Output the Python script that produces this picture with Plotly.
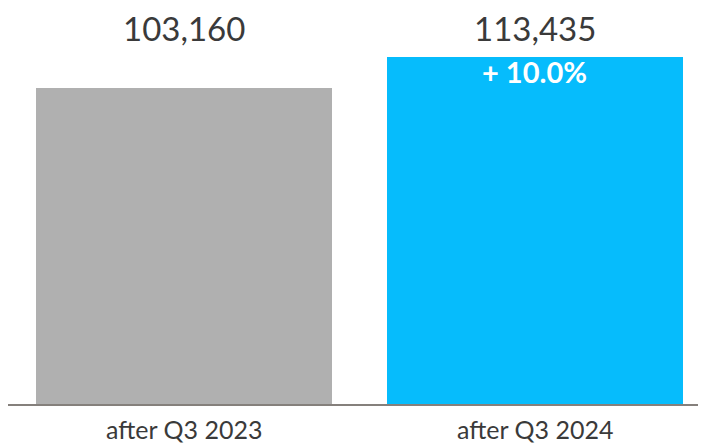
import plotly.graph_objects as go

categories = ["after Q3 2023", "after Q3 2024"]
values = [103160, 113435]
bar_colors = ["#B0B0B0", "#06BCFC"]

FONT = "Lato"
TEXT = "#3A3A3A"

growth = (values[1] / values[0] - 1) * 100

fig = go.Figure()
fig.add_trace(go.Bar(
    x=[0, 1], y=values, width=0.843,
    marker=dict(color=bar_colors, line=dict(width=0)),
    hoverinfo="skip",
))

for i, v in enumerate(values):
    fig.add_annotation(x=i, y=0.9495, xref="x", yref="paper", text=f"{v:,}",
                       showarrow=False, yanchor="middle", borderpad=0,
                       font=dict(family=FONT, size=33, color=TEXT))

for i, c in enumerate(categories):
    fig.add_annotation(x=i, y=0, xref="x", yref="paper", text=c,
                       showarrow=False, yanchor="middle", yshift=-25, borderpad=0,
                       font=dict(family=FONT, size=25, color=TEXT))

fig.add_annotation(x=1, y=values[1], xref="x", yref="y",
                   text=f"<b>+ {growth:.1f}%</b>", showarrow=False,
                   yanchor="top", yshift=4, borderpad=0,
                   font=dict(family=FONT, size=29, color="white"))

fig.update_layout(
    width=706, height=443,
    margin=dict(l=0, r=0, t=0, b=47),
    plot_bgcolor="white", paper_bgcolor="white",
    showlegend=False, bargap=0,
    xaxis=dict(range=[-0.5014, 1.51], tickvals=[0, 1], showticklabels=False,
               showline=True, linecolor="#85807C", linewidth=2,
               showgrid=False, zeroline=False, ticks=""),
    yaxis=dict(range=[0, 129278], visible=False, showgrid=False, zeroline=False),
)

fig.write_html("out.html")
